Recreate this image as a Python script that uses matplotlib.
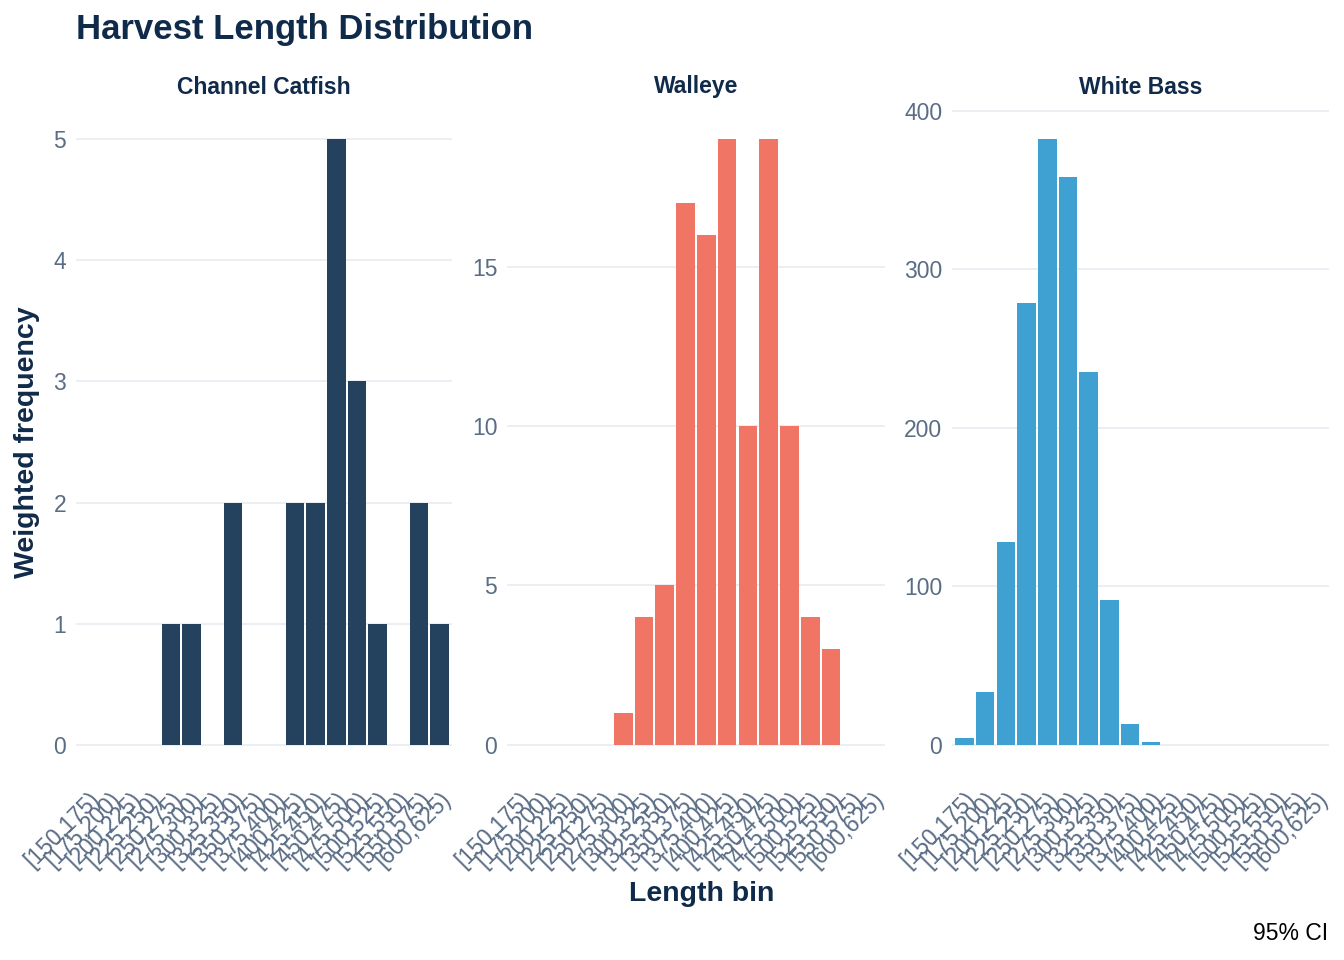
import matplotlib
matplotlib.use("Agg")
import matplotlib.pyplot as plt

plt.rcParams['font.family'] = ['Liberation Sans', 'DejaVu Sans']

# ---- data ----
bins = ["[150,175)", "[175,200)", "[200,225)", "[225,250)", "[250,275)",
        "[275,300)", "[300,325)", "[325,350)", "[350,375)", "[375,400)",
        "[400,425)", "[425,450)", "[450,475)", "[475,500)", "[500,525)",
        "[525,550)", "[550,575)", "[600,625)"]

species = ["Channel Catfish", "Walleye", "White Bass"]

catfish = [0, 0, 0, 0, 1, 1, 0, 2, 0, 0, 2, 2, 5, 3, 1, 0, 2, 1]
walleye = [0, 0, 0, 0, 0, 1, 4, 5, 17, 16, 19, 10, 19, 10, 4, 3, 0, 0]
white_bass = [4, 33, 128, 279, 382, 358, 235, 91, 13, 2, 0, 0, 0, 0, 0, 0, 0, 0]

values = [catfish, walleye, white_bass]
colors = ["#24415e", "#f07565", "#3fa1d2"]
yticks = [[0, 1, 2, 3, 4, 5], [0, 5, 10, 15], [0, 100, 200, 300, 400]]

W, H = 1344, 960
fig = plt.figure(figsize=(W / 100, H / 100), dpi=100)
fig.patch.set_facecolor("white")

navy = "#102a4a"
tickc = "#5a6d85"
gridc = "#e9edf2"

panels = [(76, 452), (507, 885), (952, 1329)]
top, bottom = 109, 775

for i, (x0, x1) in enumerate(panels):
    ax = fig.add_axes([x0 / W, 1 - bottom / H, (x1 - x0) / W, (bottom - top) / H])
    vals = values[i]
    xs = list(range(len(bins)))
    ax.bar([x for x, v in zip(xs, vals) if v > 0],
           [v for v in vals if v > 0],
           width=0.9, color=colors[i], zorder=3, linewidth=0)
    ax.set_xlim(-0.6, len(bins) - 1 + 0.6)
    vmax = max(vals)
    ax.set_ylim(-0.05 * vmax, vmax * 1.05)
    ax.set_yticks(yticks[i])
    ax.set_yticklabels([str(t) for t in yticks[i]])
    ax.set_xticks(xs)
    ax.set_xticklabels(bins, rotation=45, ha="right", va="top",
                       rotation_mode="anchor")
    ax.tick_params(axis="both", length=0, colors=tickc, labelsize=16.5)
    ax.tick_params(axis="y", pad=7)
    ax.tick_params(axis="x", pad=9)
    ax.grid(axis="y", color=gridc, linewidth=1.3, zorder=0)
    ax.grid(axis="x", visible=False)
    for s in ax.spines.values():
        s.set_visible(False)
    ax.set_facecolor("white")
    fig.text((x0 + x1) / 2 / W, 1 - 87 / H, species[i], ha="center", va="center",
             fontsize=16.5, fontweight="bold", color=navy)

fig.text(76 / W, 1 - 30 / H, "Harvest Length Distribution", ha="left", va="center",
         fontsize=25, fontweight="bold", color=navy)
fig.text(27 / W, 1 - 442 / H, "Weighted frequency", ha="center", va="center",
         rotation=90, fontsize=20.5, fontweight="bold", color=navy)
fig.text(702 / W, 1 - 894 / H, "Length bin", ha="center", va="center",
         fontsize=20.5, fontweight="bold", color=navy)
fig.text(1328 / W, 1 - 933 / H, "95% CI", ha="right", va="center",
         fontsize=16.5, color="black")

fig.savefig("out.png", dpi=100, facecolor="white")
